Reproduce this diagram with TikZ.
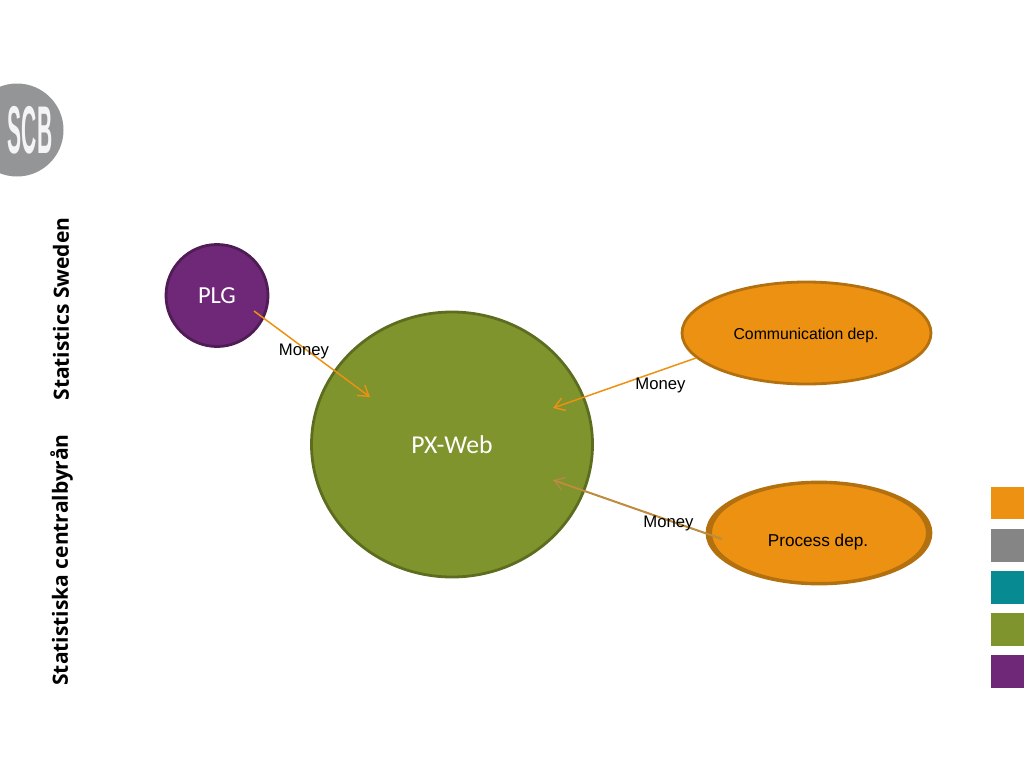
\documentclass[tikz,border=0pt]{standalone}
\usepackage{fontspec}
\setmainfont{Carlito}
\newfontfamily\arialfont{Liberation Sans}
\newfontfamily\sidefont{Open Sans}
\usetikzlibrary{shapes.geometric,arrows.meta}
\definecolor{cOrange}{HTML}{EC9112}
\definecolor{cOrangeD}{HTML}{B2700F}
\definecolor{cGray}{HTML}{858585}
\definecolor{cTeal}{HTML}{078A92}
\definecolor{cGreen}{HTML}{7F942D}
\definecolor{cGreenD}{HTML}{5D6D20}
\definecolor{cPurple}{HTML}{6F2877}
\definecolor{cPurpleD}{HTML}{4F1C56}
\definecolor{cLogo}{HTML}{949597}
\definecolor{cBrown}{HTML}{B08A48}
\tikzset{
  x=1pt,y=-1pt,
  blob/.style={ellipse,inner sep=0pt,outer sep=0pt,line width=2.8pt},
  swatch/.style={rectangle,inner sep=0pt,outer sep=0pt,minimum width=33pt,anchor=north west},
  money/.style={font=\arialfont\fontsize{16.7}{18}\selectfont,inner sep=0pt,text=black},
  flow/.style={draw=cOrange,line width=1.5pt,-{Straight Barb[length=10pt,width=13pt,line width=1.4pt]}},
  side/.style={font=\sidefont\fontsize{21}{24}\selectfont\bfseries,rotate=90,inner sep=0pt,text=black}
}
\begin{document}
\begin{tikzpicture}
\useasboundingbox (0,0) rectangle (1024,768);
% logo
\begin{scope}
\clip (0,0) rectangle (1024,768);
\node[circle,fill=cLogo,inner sep=0pt,minimum size=93pt] (logo) at (17,130) {};
\end{scope}
\node[inner sep=0pt,text=white!90!cLogo,font=\arialfont\bfseries\fontsize{27}{27}\selectfont,xscale=0.78,yscale=2.5] (scb) at (30,130) {SCB};
% side texts
\node[side] (sweden) at (61,309) {Statistics Sweden};
\node[side] (central) at (61.5,560) {Statistiska centralbyrån};
% bubbles
\node[blob,circle,draw=cPurpleD,fill=cPurple,minimum size=102pt,text=white,font=\fontsize{24.5}{26}\selectfont] (plg) at (217,295.5) {PLG};
\node[blob,draw=cGreenD,fill=cGreen,minimum width=281pt,minimum height=265pt,text=white,font=\fontsize{25.7}{28}\selectfont] (px) at (452,444.5) {PX-Web};
\node[blob,draw=cOrangeD,fill=cOrange,minimum width=249pt,minimum height=102pt,text=black] (comm) at (806.5,333) {};
\node[inner sep=0pt,text=black,font=\arialfont\fontsize{15.8}{18}\selectfont] (commlabel) at (806,335) {Communication dep.};
\node[blob,draw=cOrangeD,fill=cOrangeD,minimum width=224pt,minimum height=102pt] (procback) at (819,533) {};
\node[blob,draw=cOrangeD,fill=cOrange,minimum width=216pt,minimum height=100pt,line width=2pt] (proc) at (819,533) {};
\node[inner sep=0pt,text=black,font=\arialfont\fontsize{17.2}{19}\selectfont] (proclabel) at (818,542) {Process dep.};
% swatches
\node[swatch,fill=cOrange,minimum height=32pt] (s1) at (991,487) {};
\node[swatch,fill=cGray,minimum height=33pt] (s2) at (991,529) {};
\node[swatch,fill=cTeal,minimum height=33pt] (s3) at (991,571) {};
\node[swatch,fill=cGreen,minimum height=33pt] (s4) at (991,613) {};
\node[swatch,fill=cPurple,minimum height=33pt] (s5) at (991,655) {};
% connector ends
\coordinate (a1) at (254,311);
\coordinate (a2) at (370,397);
\coordinate (b1) at (696,358);
\coordinate (b2) at (553,408);
\coordinate (c1) at (722,539);
\coordinate (c2) at (553,480);
\draw[flow] (a1) -- (a2);
\draw[flow] (b1) -- (b2);
\draw[draw=cBrown,line width=2pt,-{Straight Barb[length=10pt,width=13pt,line width=1.4pt]}] (c1) -- (c2);
\draw[draw=cOrange!70!cBrown,line width=0.5pt] (c1) -- (c2);
% labels
\node[money] (m1) at (304,351.5) {Money};
\node[money] (m2) at (660.5,385.5) {Money};
\node[money] (m3) at (668.5,523.5) {Money};
\end{tikzpicture}
\end{document}
